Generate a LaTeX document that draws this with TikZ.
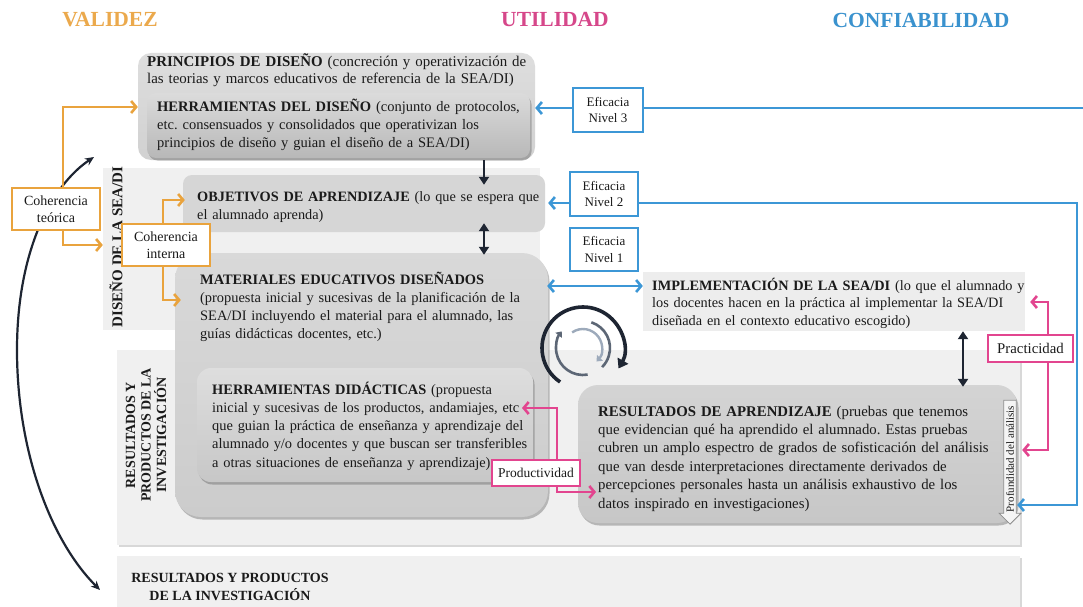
\documentclass[tikz,border=0pt]{standalone}
\usepackage{fontspec}
\setmainfont{Liberation Serif}
\usetikzlibrary{arrows.meta,shadows,shapes.arrows,calc}

\definecolor{orangeC}{HTML}{E9A33D}
\definecolor{orangeT}{HTML}{EBA94C}
\definecolor{pinkC}{HTML}{E2458F}
\definecolor{pinkT}{HTML}{D6478A}
\definecolor{blueC}{HTML}{3C97D6}
\definecolor{blueT}{HTML}{3A92CE}
\definecolor{navyC}{HTML}{1E2532}
\definecolor{inkC}{HTML}{1A1A1A}
\definecolor{bandC}{HTML}{F0F0F0}
\definecolor{implC}{HTML}{EDEDED}
\definecolor{iconMid}{HTML}{5C6675}
\definecolor{iconLight}{HTML}{9DAABB}

% a block of stacked lines: justified lines and one natural last line
\newcommand{\tblock}[1]{\vtop{#1}}
\newcommand{\jline}[1]{\hbox to \hsize{#1}}
\newcommand{\lline}[1]{\hbox{#1}}

\begin{document}
\frenchspacing
\begin{tikzpicture}[x=1pt,y=-1pt,
  every node/.style={text=inkC},
  ttl/.style={font=\fontsize{21.5}{24}\selectfont\bfseries, inner sep=0pt},
  band/.style={fill=bandC, inner sep=0pt, draw=none},
  card/.style={inner sep=0pt, draw=none},
  softshadow/.style={drop shadow={shadow xshift=1.5pt, shadow yshift=-2.5pt, opacity=.35, fill=black!70}},
  body/.style={inner sep=0pt, anchor=base west, text width=#1,
    font=\fontsize{14.5}{18.3}\selectfont},
  tagO/.style={draw=orangeC, line width=1.2pt, fill=white, inner sep=0pt, align=center,
    font=\fontsize{14}{16.5}\selectfont},
  tagB/.style={draw=blueC, line width=1.2pt, fill=white, inner sep=0pt, align=center,
    font=\fontsize{13}{16.5}\selectfont},
  tagP/.style={draw=pinkC, line width=1.2pt, fill=white, inner sep=0pt, align=center,
    font=\fontsize{13.5}{16}\selectfont},
  oarrow/.style={draw=orangeC, line width=2.6pt, -{Straight Barb[length=5pt,width=12pt]}},
  barrow/.style={draw=blueC, line width=2.6pt, -{Straight Barb[length=5pt,width=12pt]}},
  bbarrow/.style={draw=blueC, line width=2.6pt, {Straight Barb[length=5pt,width=12pt]}-{Straight Barb[length=5pt,width=12pt]}},
  parrow/.style={draw=pinkC, line width=2.6pt, {Straight Barb[length=5pt,width=12pt]}-{Straight Barb[length=5pt,width=12pt]}},
  darrow/.style={draw=navyC, line width=2.4pt, -{Triangle[length=8pt,width=10pt]}},
  ddarrow/.style={draw=navyC, line width=2.4pt, {Triangle[length=8pt,width=10pt]}-{Triangle[length=8pt,width=10pt]}}
]
\useasboundingbox (0,0) rectangle (1083,607);
\fill[white] (0,0) rectangle (1083,607);

% ---------- column titles ----------
\node[ttl, text=orangeT] (tVal) at (110,20) {VALIDEZ};
\node[ttl, text=pinkT] (tUti) at (555,20) {UTILIDAD};
\node[ttl, text=blueT] (tCon) at (921,20) {CONFIABILIDAD};

% ---------- background bands ----------
\node[band, minimum width=437, minimum height=162] (bandDis) at (321.5,249) {};
\node[band, drop shadow={shadow xshift=2pt, shadow yshift=-2pt, opacity=.3}, minimum width=903, minimum height=195] (bandRes) at (568.5,447.5) {};
\node[band, drop shadow={shadow xshift=2pt, shadow yshift=-2pt, opacity=.3}, minimum width=903, minimum height=60] (bandFin) at (568.5,586) {};

\node[rotate=90, inner sep=0pt, font=\fontsize{15}{17}\selectfont\bfseries] (lblDis) at (116,247) {DISEÑO DE LA SEA/DI};
\node[rotate=90, inner sep=0pt, align=center, font=\fontsize{14}{15.5}\selectfont\bfseries] (lblRes) at (146,435) {RESULTADOS Y\\PRODUCTOS DE LA\\INVESTIGACIÓN};
\node[inner sep=0pt, align=center, font=\fontsize{14}{18}\selectfont\bfseries] (lblFin) at (230,587) {RESULTADOS Y PRODUCTOS\\DE LA INVESTIGACIÓN};

% ---------- content cards ----------
\node[card, rounded corners=13pt, top color=black!13, bottom color=black!18, minimum width=397, minimum height=107] (prin) at (336.5,106.5) {};
\node[card, rounded corners=9pt, softshadow, top color=black!14, bottom color=black!28, minimum width=383, minimum height=65] (herrDis) at (338.5,125.5) {};
\node[card, rounded corners=9pt, fill=black!16, minimum width=362, minimum height=57] (obj) at (364,203.5) {};
\node[card, rounded corners=26pt, softshadow, top color=black!15, bottom color=black!20, minimum width=373, minimum height=264] (mat) at (361.5,385) {};
\node[card, rounded corners=14pt, softshadow, top color=black!13, bottom color=black!22, minimum width=336, minimum height=114] (herrDid) at (365,425) {};
\node[card, fill=implC, minimum width=382, minimum height=59] (impl) at (834,301.5) {};
\node[card, rounded corners=20pt, softshadow, top color=black!17, bottom color=black!22, minimum width=439, minimum height=138] (res) at (797.5,454) {};

% ---------- card texts ----------
\node[body=376, font=\fontsize{14.9}{17}\selectfont] (prinT) at (147,67) {\tblock{%
  \jline{\textbf{PRINCIPIOS DE DISEÑO} (concreción y operativización de}%
  \lline{las teorias y marcos educativos de referencia de la SEA/DI)}}};
\node[body=361] (herrDisT) at (157,111) {\tblock{%
  \jline{\textbf{HERRAMIENTAS DEL DISEÑO} (conjunto de protocolos,}%
  \jline{etc. consensuados y consolidados que operativizan los}%
  \lline{principios de diseño y guian el diseño de a SEA/DI)}}};
\node[body=336, font=\fontsize{14.3}{18.3}\selectfont] (objT) at (197,201) {\tblock{%
  \jline{\textbf{OBJETIVOS DE APRENDIZAJE} (lo que se espera que}%
  \lline{el alumnado aprenda)}}};
\node[body=330, font=\fontsize{14.4}{18.3}\selectfont] (matT) at (200,284) {\tblock{%
  \lline{\textbf{MATERIALES EDUCATIVOS DISEÑADOS}}%
  \lline{(propuesta inicial y sucesivas de la planificación de la}%
  \lline{SEA/DI incluyendo el material para el alumnado, las}%
  \lline{guías didácticas docentes, etc.)}}};
\node[body=303, font=\fontsize{14.4}{18.3}\selectfont] (herrDidT) at (212,394) {\tblock{%
  \jline{\textbf{HERRAMIENTAS DIDÁCTICAS} (propuesta}%
  \jline{inicial y sucesivas de los productos, andamiajes, etc}%
  \jline{que guian la práctica de enseñanza y aprendizaje del}%
  \jline{alumnado y/o docentes y que buscan ser transferibles}%
  \lline{a otras situaciones de enseñanza y aprendizaje)}}};
\node[body=370, font=\fontsize{14.3}{17.6}\selectfont] (implT) at (652,290) {\tblock{%
  \jline{\textbf{IMPLEMENTACIÓN DE LA SEA/DI} (lo que el alumnado y}%
  \jline{los docentes hacen en la práctica al implementar la SEA/DI}%
  \lline{diseñada en el contexto educativo escogido)}}};
\node[body=402, font=\fontsize{14.8}{18.4}\selectfont] (resT) at (598,416) {\tblock{%
  \jline{\textbf{RESULTADOS DE APRENDIZAJE} (pruebas que tenemos}%
  \jline{que evidencian qué ha aprendido el alumnado. Estas pruebas}%
  \jline{cubren un amplo espectro de grados de sofisticación del análisis}%
  \jline{que van desde interpretaciones directamente derivados de}%
  \jline{percepciones personales hasta un análisis exhaustivo de los}%
  \lline{datos inspirado en investigaciones)}}};

% depth-of-analysis arrow inside the results card
\node[single arrow, shape border rotate=180, rotate=90, draw=black!45, line width=0.8pt,
  fill=black!4, inner sep=2pt, single arrow head extend=4.5pt, minimum height=124,
  font=\fontsize{11}{12}\selectfont] (prof) at (1010,459) {Profundidad del análisis};

% ---------- free ends of the connectors ----------
\coordinate (eRight3) at (1083,108);
\coordinate (eCornerA) at (1077,203);
\coordinate (eCornerB) at (1077,505);
\coordinate (yN1) at (0,286);
\coordinate (xA) at (484,0);
\coordinate (xB) at (963,0);
\coordinate (oT1) at (63,107);
\coordinate (oT2) at (63,245);
\coordinate (oI1) at (163,200);
\coordinate (oI2) at (163,300);
\coordinate (pdTop) at (522,408);
\coordinate (pdBot) at (596,492);
\coordinate (pdV1) at (557,408);
\coordinate (pdV2) at (557,492);
\coordinate (ptV1) at (1048,302);
\coordinate (ptV2) at (1048,450);
\coordinate (cvTop) at (94,157);
\coordinate (cvMid) at (17,350);
\coordinate (cvBot) at (100,590);

% ---------- VALIDEZ: coherence arrows ----------
\draw[navyC, line width=2.2pt, {Stealth[length=9pt,width=8pt]}-{Stealth[length=9pt,width=8pt]}]
  (cvBot) .. controls (50,540) and (17,450) .. (cvMid)
  .. controls (17,250) and (52,185) .. (cvTop);

\draw[oarrow] (oT2) -- (oT1) -- (oT1 -| prin.west);
\draw[oarrow] (oT1) -- (oT2) -- (oT2 -| bandDis.west);
\draw[oarrow] (oI2) -- (oI1) -- ([xshift=2pt]oI1 -| obj.west);
\draw[oarrow] (oI1) -- (oI2) -- ([xshift=6pt]oI2 -| mat.west);
\node[tagO, minimum width=88, minimum height=42] (cohT) at (56,209) {Coherencia\\teórica};
\node[tagO, minimum width=88, minimum height=42] (cohI) at (166,245) {Coherencia\\interna};

% ---------- design flow ----------
\draw[darrow, shorten >=-10pt] (prin.south -| xA) -- (obj.north -| xA);
\draw[ddarrow, shorten <=-9pt, shorten >=-2pt] (obj.south -| xA) -- (mat.north -| xA);
\draw[ddarrow, shorten >=-2pt] (impl.south -| xB) -- (res.north -| xB);

% ---------- CONFIABILIDAD: efficacy levels ----------
\draw[barrow] (eRight3) -- (eRight3 -| prin.east);
\draw[bbarrow] (eCornerB -| res.east) -- (eCornerB) -- (eCornerA) -- ([xshift=3pt]eCornerA -| obj.east);
\draw[bbarrow] ([xshift=-1pt]yN1 -| mat.east) -- (yN1 -| impl.west);
\node[tagB, minimum width=70, minimum height=44] (ef3) at (608,110) {Eficacia\\Nivel 3};
\node[tagB, minimum width=68, minimum height=44] (ef2) at (604,194) {Eficacia\\Nivel 2};
\node[tagB, minimum width=68, minimum height=43] (ef1) at (604,249.5) {Eficacia\\Nivel 1};

% ---------- UTILIDAD: productivity and practicality ----------
\draw[parrow] (pdTop) -- (pdV1) -- (pdV2) -- (pdBot);
\node[tagP, minimum width=88, minimum height=26] (prod) at (536,473) {Productividad};
\draw[parrow] ([xshift=5pt]ptV1 -| impl.east) -- (ptV1) -- (ptV2) -- ([xshift=5pt]ptV2 -| res.east);
\node[tagP, minimum width=85, minimum height=27, font=\fontsize{14.8}{16}\selectfont] (prac) at (1030.5,348.5) {Practicidad};

% ---------- iteration cycle icon ----------
\begin{scope}[shift={(583,348)}, y=1pt]
  \draw[navyC, line width=3.6pt, -{Triangle[length=9pt,width=12pt]}]
    (236:41) arc[start angle=236, end angle=-30, radius=41pt];
  \draw[iconMid, line width=2.6pt, -{Triangle[length=5pt,width=8pt]}]
    (280:27) arc[start angle=280, end angle=142, radius=27pt];
  \draw[iconMid, line width=2.6pt]
    (72:27) arc[start angle=72, end angle=-45, radius=27pt];
  \draw[iconLight, line width=2.4pt, -{Triangle[length=5pt,width=8pt]}]
    (125:19) arc[start angle=125, end angle=-45, radius=19pt];
\end{scope}
\end{tikzpicture}
\end{document}
